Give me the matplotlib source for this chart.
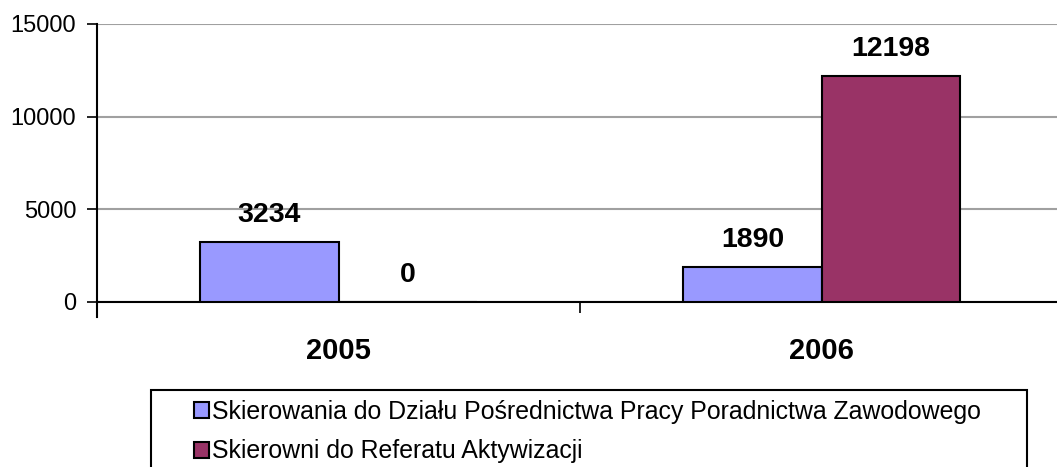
import numpy as np
import matplotlib
matplotlib.use("Agg")
from matplotlib import pyplot as plt
from matplotlib.patches import Rectangle

plt.rcParams['font.family'] = ['Liberation Sans', 'DejaVu Sans']

years = ['2005', '2006']
series_names = ['Skierowania do Działu Pośrednictwa Pracy Poradnictwa Zawodowego',
                'Skierowni do Referatu Aktywizacji']
posrednictwo = [3234, 1890]
aktywizacja = [0, 12198]
colors = ['#9999FF', '#993366']

W, H = 1057, 467
fig = plt.figure(figsize=(W / 100, H / 100), dpi=100)
ax = fig.add_axes([97 / W, 165 / H, 966 / W, 278 / H])

x = np.arange(len(years))
w = 0.286
b1 = ax.bar(x - w / 2, posrednictwo, w, color=colors[0], edgecolor='black',
            linewidth=1.5, label=series_names[0], zorder=3)
b2 = ax.bar(x + w / 2, aktywizacja, w, color=colors[1], edgecolor='black',
            linewidth=1.5, label=series_names[1], zorder=3)

for bars in (b1, b2):
    ax.bar_label(bars, padding=10, fontsize=20.5, fontweight='bold')

ax.set_xlim(-0.5, 1.5)
ax.set_ylim(0, 15000)
ax.set_yticks([0, 5000, 10000, 15000])
ax.tick_params(axis='y', labelsize=17, length=7, width=1.2, pad=8)
ax.set_xticks([-0.5, 0.5, 1.5])
ax.set_xticklabels([])
ax.set_xticks(x, minor=True)
ax.set_xticklabels(years, minor=True, fontsize=21, fontweight='bold')
ax.tick_params(axis='x', which='major', length=8, width=1.2)
ax.tick_params(axis='x', which='minor', length=0, pad=25)

ax.yaxis.grid(True, color='#a0a0a0', linewidth=1.5, zorder=0)
ax.set_axisbelow(True)
for s in ['top', 'right']:
    ax.spines[s].set_visible(False)
for s in ['left', 'bottom']:
    ax.spines[s].set_linewidth(1.5)
ax.spines['left'].set_bounds(-800, 15000)

# legend box (runs off the bottom of the picture)
fig.patches.append(Rectangle((151 / W, -0.1), 876 / W, 1 - 390 / H + 0.1,
                             transform=fig.transFigure, fill=False,
                             edgecolor='black', linewidth=1.5))
leg = fig.legend(loc='upper left', bbox_to_anchor=(194 / W, 1 - 400 / H),
                 fontsize=17.9, frameon=False,
                 handlelength=0.62, handleheight=0.62, handletextpad=0.1,
                 labelspacing=0.62, borderpad=0, borderaxespad=0)
for h in leg.legend_handles:
    h.set_linewidth(1.5)

fig.savefig('out.png', dpi=100)
